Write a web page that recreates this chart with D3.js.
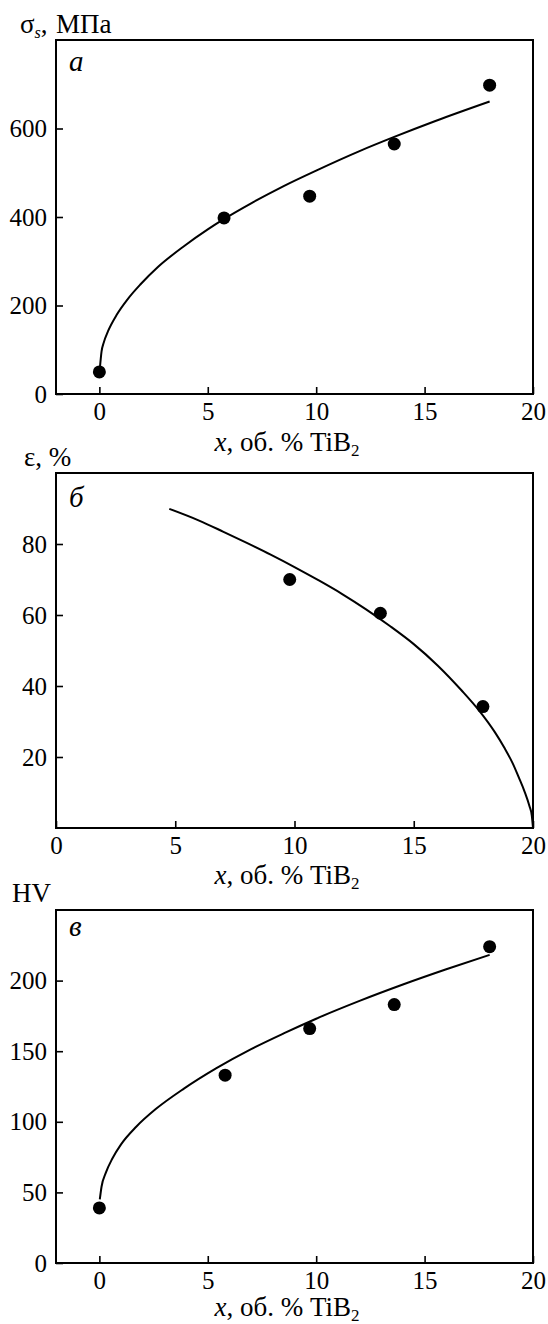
<!DOCTYPE html>
<html>
<head>
<meta charset="utf-8">
<script src="https://cdn.jsdelivr.net/npm/d3@7"></script>
<style>
  body { margin: 0; background: #fff; }
  svg text { font-family: "Liberation Serif", "Times New Roman", Times, serif; fill: #000; }
</style>
</head>
<body>
<svg id="chart" width="548" height="1324"></svg>
<script>
// panel a: yield stress vs TiB2 content
const xA = [0, 5.75, 9.7, 13.6, 18.0]
const sigmaA = [50, 398, 447, 565, 698]
const fitAx = [0.03, 0.1, 0.2, 0.4, 0.8, 1.3, 1.9, 2.7, 3.9, 5, 5.7, 7, 8.5, 10, 12, 13.6, 15.5, 18]
const fitAy = [62, 96, 116, 142, 179, 214, 248, 287, 334, 372, 394, 431, 470, 505, 549, 581, 617, 661]
const ticksAy = [0, 200, 400, 600]

// panel b: elongation
const xB = [9.8, 13.6, 17.9]
const epsB = [70, 60.5, 34.2]
const fitBx = [4.75, 6, 7, 8, 9, 10, 11, 12, 13, 14, 15, 16, 17, 17.75, 18.4, 18.8, 19.15, 19.4, 19.65, 19.85, 19.95, 20]
const fitBy = [89.9, 86.6, 83.5, 80.3, 77, 73.5, 69.8, 65.9, 61.6, 56.9, 51.8, 45.8, 38.8, 33, 27, 22.6, 18.2, 14.3, 10.2, 6.2, 3.5, 0]
const ticksBy = [20, 40, 60, 80]

// panel c: hardness
const xC = [0, 5.8, 9.7, 13.6, 18.0]
const hvC = [39, 133, 166, 183, 224]
const fitCx = [0.02, 0.1, 0.3, 0.6, 1.0, 1.7, 2.6, 3.9, 5.4, 7, 8.5, 10, 12, 14, 16, 18]
const fitCy = [45, 54, 64, 74, 84, 96.5, 109, 123.5, 138, 151.5, 162.6, 173, 185.6, 197.2, 208, 218.2]
const ticksCy = [0, 50, 100, 150, 200]

const ticksX = [0, 5, 10, 15, 20]

const FONT = "Liberation Serif"
const svg = d3.select("#chart")
const left = 56, right = 533

const panels = [
  { top: 40, bottom: 394, xdom: [-2, 20], ydom: [0, 800], yticks: ticksAy,
    px: xA, py: sigmaA, fx: fitAx, fy: fitAy, letter: "а", letterY: 71, ytitle: "sigma", ytitleY: 33, titleY: 451 },
  { top: 473, bottom: 828, xdom: [0, 20], ydom: [0, 100], yticks: ticksBy,
    px: xB, py: epsB, fx: fitBx, fy: fitBy, letter: "б", letterY: 507, ytitle: "ε, %", ytitleY: 466, titleY: 884 },
  { top: 910, bottom: 1263, xdom: [-2, 20], ydom: [0, 250], yticks: ticksCy,
    px: xC, py: hvC, fx: fitCx, fy: fitCy, letter: "в", letterY: 936, ytitle: "HV", ytitleY: 902, titleY: 1316 }
]

panels.forEach(p => {
  const x = d3.scaleLinear().domain(p.xdom).range([left, right])
  const y = d3.scaleLinear().domain(p.ydom).range([p.bottom, p.top])
  const g = svg.append("g")

  // axes with inward ticks
  const gx = g.append("g")
      .attr("transform", "translate(0," + p.bottom + ")")
      .call(d3.axisBottom(x).tickValues(ticksX).tickSizeInner(-7).tickSizeOuter(0).tickPadding(8))
  const gy = g.append("g")
      .attr("transform", "translate(" + left + ",0)")
      .call(d3.axisLeft(y).tickValues(p.yticks).tickSizeInner(-7).tickSizeOuter(0).tickPadding(9))
  ;[gx, gy].forEach(a => {
    a.attr("font-family", FONT).attr("font-size", 25)
    a.select(".domain").remove()
    a.selectAll(".tick line").attr("stroke", "#000").attr("stroke-width", 1.6)
    a.selectAll(".tick text").attr("font-size", 25).attr("font-family", FONT)
  })

  // frame
  g.append("rect")
      .attr("x", left).attr("y", p.top)
      .attr("width", right - left).attr("height", p.bottom - p.top)
      .attr("fill", "none").attr("stroke", "#000").attr("stroke-width", 2)

  // fitted curve
  const pts = p.fx.map((v, i) => [v, p.fy[i]])
  g.append("path")
      .datum(pts)
      .attr("fill", "none").attr("stroke", "#000").attr("stroke-width", 2)
      .attr("d", d3.line().x(d => x(d[0])).y(d => y(d[1])).curve(d3.curveMonotoneX))

  // measured points
  g.selectAll(".dot")
      .data(p.px.map((v, i) => [v, p.py[i]]))
      .enter().append("circle")
      .attr("cx", d => x(d[0])).attr("cy", d => y(d[1]))
      .attr("r", 6.5).attr("fill", "#000")

  // panel letter
  g.append("text")
      .attr("x", 69).attr("y", p.letterY)
      .attr("font-family", FONT)
      .attr("font-size", 29).attr("font-style", "italic")
      .text(p.letter)

  // x title
  const xt = g.append("text")
      .attr("x", 287).attr("y", p.titleY)
      .attr("font-family", FONT)
      .attr("text-anchor", "middle").attr("font-size", 27)
  xt.append("tspan").attr("font-style", "italic").text("x")
  xt.append("tspan").text(", об. % TiB")
  xt.append("tspan").attr("font-size", 17).attr("dy", 5).text("2")

  // y title
  const yt = g.append("text").attr("x", p.ytitle === "HV" ? 12 : (p.ytitle === "sigma" ? 20 : 24))
      .attr("y", p.ytitleY).attr("font-size", 27).attr("font-family", FONT)
  if (p.ytitle === "sigma") {
    yt.append("tspan").text("σ")
    yt.append("tspan").attr("font-style", "italic").attr("font-size", 16).attr("dy", 5).text("s")
    yt.append("tspan").attr("dy", -5).text(",")
    yt.append("tspan").attr("x", 56).text("МПа")
  } else {
    yt.text(p.ytitle)
  }
})
</script>
</body>
</html>
